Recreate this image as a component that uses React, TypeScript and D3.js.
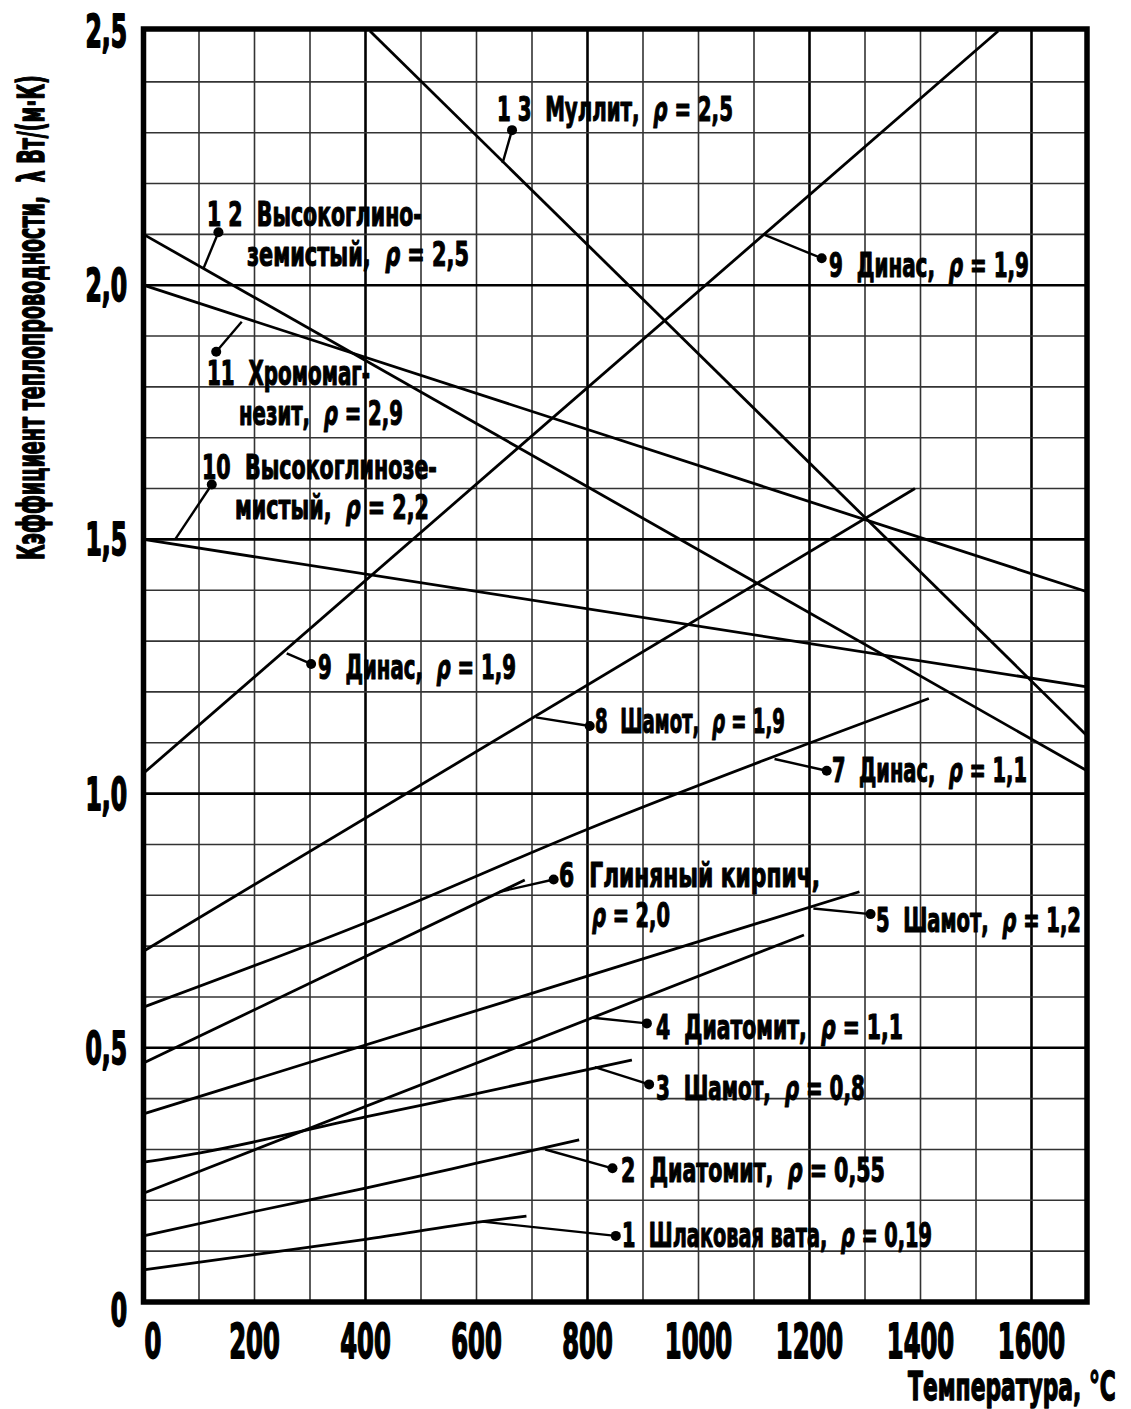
import React, { useEffect, useRef } from 'react'
import * as d3 from 'd3'

// Температура, °C и λ, Вт/(м·К) по кривым
const t1 = [0, 200, 400, 610, 690]
const l1 = [0.063, 0.093, 0.123, 0.158, 0.169]
const t2 = [0, 200, 400, 600, 785]
const l2 = [0.13, 0.178, 0.224, 0.273, 0.319]
const t3 = [0, 100, 400, 600, 880]
const l3 = [0.275, 0.293, 0.364, 0.41, 0.476]
const t4 = [0, 1190]
const l4 = [0.214, 0.722]
const t5 = [0, 1290]
const l5 = [0.37, 0.807]
const t6 = [0, 687]
const l6 = [0.47, 0.83]
const t7 = [0, 400, 800, 1415]
const l7 = [0.58, 0.746, 0.93, 1.187]
const t8 = [0, 1390]
const l8 = [0.69, 1.6]
const t9 = [0, 1540]
const l9 = [1.04, 2.5]
const t10 = [0, 1700]
const l10 = [1.5, 1.21]
const t11 = [0, 1700]
const l11 = [2.0, 1.397]
const t12 = [0, 1700]
const l12 = [2.1, 1.045]
const t13 = [408, 1700]
const l13 = [2.5, 1.114]

const curves = [
  [t1, l1], [t2, l2], [t3, l3], [t4, l4], [t5, l5], [t6, l6], [t7, l7],
  [t8, l8], [t9, l9], [t10, l10], [t11, l11], [t12, l12], [t13, l13],
]

const xTicks = [0, 200, 400, 600, 800, 1000, 1200, 1400, 1600]
const yTicks = [0, 0.5, 1, 1.5, 2, 2.5]
const yTickLabels = ['0', '0,5', '1,0', '1,5', '2,0', '2,5']

// подписи: текст, точка на кривой [t, λ], точка-маркер [t, λ]
const noteText = [
  ['1 3  Муллит,  ρ = 2,5'],
  ['1 2  Высокоглино-', 'земистый,  ρ = 2,5'],
  ['11  Хромомаг-', 'незит,  ρ = 2,9'],
  ['10  Высокоглинозе-', 'мистый,  ρ = 2,2'],
  ['9  Динас,  ρ = 1,9'],
  ['9  Динас,  ρ = 1,9'],
  ['8  Шамот,  ρ = 1,9'],
  ['7  Динас,  ρ = 1,1'],
  ['6  Глиняный кирпич,', 'ρ = 2,0'],
  ['5  Шамот,  ρ = 1,2'],
  ['4  Диатомит,  ρ = 1,1'],
  ['3  Шамот,  ρ = 0,8'],
  ['2  Диатомит,  ρ = 0,55'],
  ['1  Шлаковая вата,  ρ = 0,19'],
]
const noteOn = [
  [647, 2.24], [108, 2.033], [177, 1.928], [57, 1.5], [258, 1.276], [1119, 2.099], [707, 1.15],
  [1137, 1.068], [642, 0.807], [1207, 0.774], [810, 0.559], [813, 0.462], [724, 0.3], [611, 0.158],
]
const noteDot = [
  [664, 2.305], [135, 2.104], [131, 1.869], [123, 1.608], [302, 1.255], [1222, 2.053], [804, 1.133],
  [1231, 1.045], [739, 0.831], [1310, 0.763], [907, 0.548], [911, 0.428], [845, 0.263], [851, 0.13],
]
// расположение строк подписей в пикселях: [x, baseline, width]
const noteBoxes: [number, number, number][][] = [
  [[497, 121, 236]],
  [[207, 226, 215], [247, 266, 222]],
  [[207, 385, 163], [239, 425, 164]],
  [[202, 479, 235], [235, 519, 194]],
  [[318, 679, 198]],
  [[829, 277, 200]],
  [[595, 733, 190]],
  [[832, 782, 195]],
  [[559, 887, 261], [592, 927, 78]],
  [[876, 932, 205]],
  [[656, 1039, 247]],
  [[656, 1100, 209]],
  [[621, 1182, 264]],
  [[622, 1247, 310]],
]

const FONT = "'DejaVu Sans Condensed', 'DejaVu Sans', sans-serif"

type G = d3.Selection<SVGGElement, unknown, null, undefined>

// текст сжимается по ширине через transform (узкий жирный шрифт оригинала)
function putText(
  g: G, str: string, x: number, y: number, size: number,
  opts: { width?: number; sx?: number; anchor?: 'start' | 'middle' | 'end'; rotate?: number; heavy?: number } = {},
) {
  const t = g.append('text')
    .attr('font-size', size)
    .attr('font-family', FONT)
    .attr('font-weight', 'bold')
    .attr('fill', '#000')
    .attr('stroke', '#000')
    .attr('stroke-width', opts.heavy ?? 1.1)
    .attr('stroke-linejoin', 'round')
    .style('white-space', 'pre')
  str.split(/(ρ)/).forEach((part) => {
    if (!part) return
    const s = t.append('tspan').text(part)
    if (part === 'ρ') s.attr('font-style', 'italic')
  })
  const natural = (t.node() as SVGTextElement).getComputedTextLength() || 1
  const sx = opts.width ? opts.width / natural : (opts.sx ?? 1)
  const w = natural * sx
  const anchor = opts.anchor ?? 'start'
  const shift = anchor === 'middle' ? -w / 2 : anchor === 'end' ? -w : 0
  const rot = opts.rotate ? ` rotate(${opts.rotate})` : ''
  t.attr('transform', `translate(${x},${y})${rot} translate(${shift},0) scale(${sx},1)`)
  return t
}

export default function App() {
  const ref = useRef<SVGSVGElement | null>(null)

  useEffect(() => {
    if (!ref.current) return
    const svg = d3.select(ref.current)
    svg.selectAll('*').remove()

    const x = d3.scaleLinear().domain([0, 1700]).range([143.5, 1087])
    const y = d3.scaleLinear().domain([0, 2.5]).range([1302, 31])

    const grid = svg.append('g')
    d3.range(100, 1700, 100).forEach((v) => {
      const major = v % 400 === 0
      grid.append('line')
        .attr('x1', x(v)).attr('x2', x(v))
        .attr('y1', y(0)).attr('y2', y(2.5))
        .attr('stroke', major ? '#000' : '#333')
        .attr('stroke-width', major ? 2.6 : 1.6)
    })
    d3.range(1, 25).forEach((i) => {
      const v = i / 10
      const major = i % 5 === 0
      grid.append('line')
        .attr('x1', x(0)).attr('x2', x(1700))
        .attr('y1', y(v)).attr('y2', y(v))
        .attr('stroke', major ? '#000' : '#333')
        .attr('stroke-width', major ? 2.6 : 1.6)
    })

    // кривые
    const line = d3.line<[number, number]>()
      .x((d) => x(d[0]))
      .y((d) => y(d[1]))
      .curve(d3.curveMonotoneX)
    const cg = svg.append('g')
    curves.forEach(([ts, ls]) => {
      const pts = ts.map((t, i) => [t, ls[i]] as [number, number])
      cg.append('path')
        .attr('d', line(pts) || '')
        .attr('fill', 'none')
        .attr('stroke', '#000')
        .attr('stroke-width', 2.8)
    })

    // рамка
    svg.append('rect')
      .attr('x', x(0)).attr('y', y(2.5) - 2)
      .attr('width', x(1700) - x(0))
      .attr('height', y(0) - y(2.5) + 2)
      .attr('fill', 'none')
      .attr('stroke', '#000')
      .attr('stroke-width', 5.5)

    // подписи кривых
    const ng = svg.append('g')
    noteText.forEach((lines, i) => {
      const on = noteOn[i]
      const dot = noteDot[i]
      ng.append('line')
        .attr('x1', x(on[0])).attr('y1', y(on[1]))
        .attr('x2', x(dot[0])).attr('y2', y(dot[1]))
        .attr('stroke', '#000')
        .attr('stroke-width', 2.4)
      ng.append('circle')
        .attr('cx', x(dot[0])).attr('cy', y(dot[1]))
        .attr('r', 5)
        .attr('fill', '#000')
      lines.forEach((s, j) => {
        const [bx, by, bw] = noteBoxes[i][j]
        putText(ng, s, bx, by, 33, { width: bw })
      })
    })

    // оси
    const ag = svg.append('g')
    xTicks.forEach((v) => {
      if (v === 0) putText(ag, '0', x(v) + 1, 1358, 48, { sx: 0.56, heavy: 1.8 })
      else putText(ag, String(v), x(v), 1358, 48, { sx: 0.56, anchor: 'middle', heavy: 1.8 })
    })
    yTicks.forEach((v, i) => {
      const yy = v === 0 ? y(v) + 24 : y(v) + 16
      putText(ag, yTickLabels[i], 127, yy, 45, { sx: 0.58, anchor: 'end', heavy: 1.8 })
    })
    putText(ag, 'Температура, °C', 1116, 1400, 39, { width: 208, anchor: 'end', heavy: 1.4 })
    putText(ag, 'Кэффициент теплопроводности,  λ Вт/(м·К)', 44, 560, 37, { width: 485, rotate: -90, heavy: 1.4 })
  }, [])

  return (
    <svg
      ref={ref}
      width={1131}
      height={1409}
      style={{ position: 'absolute', left: 0, top: 0, background: '#fff' }}
    />
  )
}
